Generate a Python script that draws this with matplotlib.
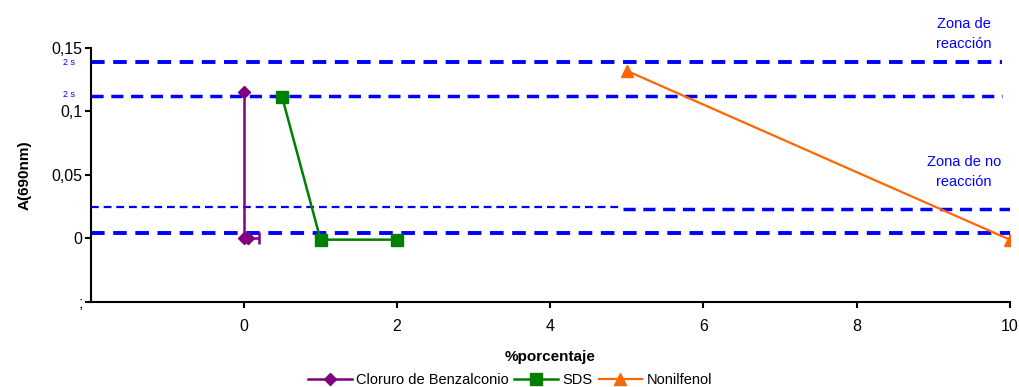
import numpy as np
import matplotlib.pyplot as plt

plt.rcParams['font.family'] = ['Liberation Sans', 'DejaVu Sans']

# datos
x_benz = [0, 0, 0.05]
y_benz = [0.115, 0, 0]
x_sds = [0.5, 1, 2]
y_sds = [0.111, -0.001, -0.001]
x_noni = [5, 10]
y_noni = [0.132, -0.001]

# limites (zonas) -- y, x inicio, x fin, grosor
lim_y = [0.139, 0.112, 0.025, 0.023, 0.004]
lim_x0 = [-2, -2, -2, 4.95, -2]
lim_x1 = [9.9, 9.9, 4.9, 10, 10]
lim_lw = [2.8, 2.5, 1.6, 2.5, 2.8]

xticks = [0, 2, 4, 6, 8, 10]
yticks = [-0.05, 0, 0.05, 0.1, 0.15]
ylabels = [';', '0', '0,05', '0,1', '0,15']

fig = plt.figure(figsize=(10.2, 3.87), dpi=100)
ax = fig.add_axes([0.089, 0.22, 0.901, 0.656])

for yy, a, b, lw in zip(lim_y, lim_x0, lim_x1, lim_lw):
    ax.plot([a, b], [yy, yy], color='#0000FF', lw=lw, ls=(0, (3.5, 2.2)), zorder=1)

ax.plot(x_benz, y_benz, color='#800080', lw=1.8, marker='D', ms=6,
        label='Cloruro de Benzalconio', zorder=3)
ax.errorbar([0.05], [0], xerr=[[0], [0.15]], color='#800080', lw=1.8,
            capsize=4, capthick=1.8, zorder=3)
ax.plot(x_sds, y_sds, color='#008000', lw=1.8, marker='s', ms=8,
        label='SDS', zorder=3)
ax.plot(x_noni, y_noni, color='#FF6600', lw=1.6, marker='^', ms=8,
        label='Nonilfenol', zorder=3)

ax.set_xlim(-2, 10)
ax.set_ylim(-0.05, 0.15)
ax.set_xticks(xticks)
ax.set_xticklabels([str(t) for t in xticks], fontsize=11.5)
ax.set_yticks(yticks)
ax.set_yticklabels(ylabels, fontsize=11.5)
ax.spines['top'].set_visible(False)
ax.spines['right'].set_visible(False)
ax.spines['left'].set_linewidth(1.5)
ax.spines['bottom'].set_linewidth(1.5)
ax.tick_params(direction='out', length=4, width=1.5, pad=2)
ax.tick_params(axis='x', pad=8)

ax.set_xlabel('%porcentaje', fontsize=11, fontweight='bold', labelpad=12)
ax.set_ylabel('A(690nm)', fontsize=11, fontweight='bold', labelpad=14)

# textos
ax.text(-2.2, 0.1385, '2 s', color='#0000FF', fontsize=6.5, ha='right', va='center')
ax.text(-2.2, 0.1135, '2 s', color='#0000FF', fontsize=6.5, ha='right', va='center')
ax.text(9.4, 0.148, 'Zona de\nreacción', color='#0000FF', fontsize=10.5,
        ha='center', va='bottom', linespacing=1.5)
ax.text(9.4, 0.039, 'Zona de no\nreacción', color='#0000FF', fontsize=10.5,
        ha='center', va='bottom', linespacing=1.5)

h, l = ax.get_legend_handles_labels()
fig.legend(h, l, loc='lower center', bbox_to_anchor=(0.5, -0.035), ncol=3,
           frameon=False, fontsize=10.5, handlelength=3, columnspacing=0.4,
           handletextpad=0.3)

fig.savefig('out.png', dpi=100)
